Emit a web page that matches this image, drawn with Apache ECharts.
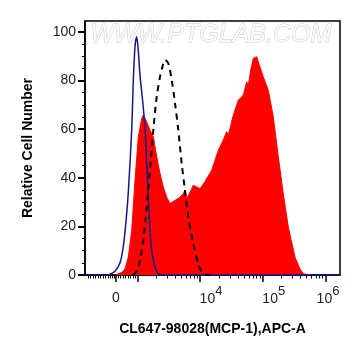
<!DOCTYPE html>
<html><head><meta charset="utf-8">
<script src="https://cdn.jsdelivr.net/npm/echarts@6/dist/echarts.min.js"></script>
<style>html,body{margin:0;padding:0;background:#fff}#c{width:361px;height:356px}</style>
</head><body><div id="c"></div>
<script>
// x values are in display decades (10^4 -> 4, "0" -> ~2.66 on the biexponential scale)
const redX = [2.645, 2.752, 2.805, 2.857, 2.912, 2.964, 3.017, 3.071, 3.096, 3.151, 3.203, 3.256, 3.310, 3.363, 3.415, 3.469, 3.522, 3.602, 3.681, 3.734, 3.761, 3.788, 3.814, 3.841, 3.893, 3.947, 4.000, 4.080, 4.186, 4.292, 4.371, 4.425, 4.451, 4.531, 4.610, 4.690, 4.744, 4.770, 4.808, 4.849, 4.904, 4.945, 5.009, 5.088, 5.168, 5.248, 5.327, 5.407, 5.514, 5.594, 5.646, 5.753];
const redY = [0, 1, 2.5, 7.3, 18.4, 39, 56.8, 64.4, 65.8, 63, 59.6, 56.8, 48.6, 41.7, 36.2, 32, 29.4, 30.7, 32, 33.5, 35, 31.4, 30.7, 34, 36.9, 36.2, 35.5, 38.5, 43.1, 51.3, 55.5, 59, 57.5, 65.8, 71.9, 74, 79.5, 78, 84.3, 89.1, 89.8, 86.4, 81.5, 76, 65, 48.6, 33.5, 19.7, 7.3, 2.5, 0.5, 0];
const blueX = [2.167, 2.502, 2.566, 2.645, 2.725, 2.773, 2.813, 2.857, 2.912, 2.937, 2.964, 2.991, 3.017, 3.044, 3.096, 3.124, 3.151, 3.176, 3.203, 3.230, 3.283, 3.335, 3.394, 6.231];
const blueY = [0, 0, 0.3, 1.5, 5, 11, 20, 34, 60, 80, 94, 98, 92, 82, 69, 59.6, 46, 32, 18.4, 10, 3.2, 0.5, 0, 0];
const dashX = [2.932, 3.004, 3.044, 3.096, 3.151, 3.203, 3.256, 3.310, 3.363, 3.415, 3.442, 3.495, 3.549, 3.602, 3.654, 3.708, 3.761, 3.814, 3.893, 3.973, 4.053, 4.159];
const dashY = [0, 2, 6, 14.2, 28, 43.1, 59.6, 73.3, 81.6, 87, 88.5, 87, 80.2, 70.6, 59.6, 45.9, 34.8, 23.8, 12.9, 4.6, 0.5, 0];
const xLabelValues = [2.661, 4, 5, 6];
const xLabelTexts = ['0', '10^4', '10^5', '10^6'];
const xMajorTicks = [2.661, 3.001, 4, 5, 6];
const xLinearMinorTicks = [2.215, 2.255, 2.295, 2.335, 2.375, 2.414, 2.454, 2.494, 2.534, 2.566, 2.598, 2.629, 2.693, 2.733, 2.773, 2.813, 2.853, 2.892, 2.932, 2.972];
const yMajorTicks = [0, 20, 40, 60, 80, 100];
const xMin = 2.167, xMax = 6.231, yMin = 0, yMax = 104.5;

const xMinorTicks = xLinearMinorTicks.slice();
[3, 4, 5].forEach(d => { for (let k = 2; k <= 9; k++) xMinorTicks.push(d + Math.log10(k)); });
const yMinorTicks = [];
for (let v = 5; v < 100; v += 5) if (v % 20) yMinorTicks.push(v);

const zip = (a, b) => a.map((v, i) => [v, b[i]]);
const font = 'Liberation Sans, Arial, sans-serif';

const chart = echarts.init(document.getElementById('c'), null, {renderer: 'canvas'});
chart.setOption({
  animation: false,
  backgroundColor: '#fff',
  grid: {left: 85, right: 21, top: 21, bottom: 81, show: true, borderColor: '#000', borderWidth: 1.5, backgroundColor: 'transparent'},
  graphic: [{
    type: 'text', left: 90, top: 22, z: 1,
    style: {text: 'WWW.PTGLAB.COM', font: 'italic 25px Liberation Sans, Arial, sans-serif', fill: '#fbfbfb', stroke: '#cccccc', lineWidth: 1}
  }],
  xAxis: [{
    type: 'value', min: xMin, max: xMax, position: 'bottom',
    name: 'CL647-98028(MCP-1),APC-A', nameLocation: 'middle', nameGap: 47,
    nameTextStyle: {fontFamily: font, fontWeight: 'bold', fontSize: 14, color: '#000'},
    axisLine: {show: true, onZero: false, lineStyle: {color: '#000', width: 1.5}},
    axisTick: {show: true, customValues: xMajorTicks, length: 7, lineStyle: {color: '#000', width: 1.5}},
    axisLabel: {
      show: true, customValues: xLabelValues, margin: 10, color: '#222', fontFamily: font, fontSize: 14,
      formatter: function (v) {
        const i = xLabelValues.findIndex(x => Math.abs(x - v) < 1e-6);
        const t = i >= 0 ? xLabelTexts[i] : '';
        if (t.indexOf('^') < 0) return '{z|' + t + '}';
        const p = t.split('^');
        const sp = v >= 6 ? 'sp6' : 'sp';
        return '{' + sp + '|}{b|' + p[0] + '}{s|' + p[1] + '}';
      },
      rich: {
        z: {fontSize: 14, fontFamily: font, color: '#222', padding: [6, 0, 0, 0]},
        b: {fontSize: 14, fontFamily: font, color: '#222', verticalAlign: 'bottom', padding: [6, 0, 0, 0]},
        s: {fontSize: 13, fontFamily: font, color: '#222', verticalAlign: 'top', padding: [0, 0, 8, 0]},
        sp: {width: 22},
        sp6: {width: 5}
      }
    },
    splitLine: {show: false}
  }, {
    type: 'value', min: xMin, max: xMax, position: 'bottom',
    axisLine: {show: false, onZero: false},
    axisTick: {show: true, customValues: xMinorTicks, length: 3.5, lineStyle: {color: '#000', width: 1}},
    axisLabel: {show: false},
    splitLine: {show: false}
  }],
  yAxis: [{
    type: 'value', min: yMin, max: yMax, position: 'left',
    name: 'Relative Cell Number', nameLocation: 'middle', nameGap: 50, nameRotate: 90,
    nameTextStyle: {fontFamily: font, fontWeight: 'bold', fontSize: 14, color: '#000'},
    axisLine: {show: true, onZero: false, lineStyle: {color: '#000', width: 1.5}},
    axisTick: {show: true, customValues: yMajorTicks, length: 7, lineStyle: {color: '#000', width: 2}},
    axisLabel: {show: true, customValues: yMajorTicks, margin: 9, color: '#222', fontFamily: font, fontSize: 14},
    splitLine: {show: false}
  }, {
    type: 'value', min: yMin, max: yMax, position: 'left',
    axisLine: {show: false, onZero: false},
    axisTick: {show: true, customValues: yMinorTicks, length: 3, lineStyle: {color: '#000', width: 1}},
    axisLabel: {show: false},
    splitLine: {show: false}
  }],
  series: [{
    name: 'CL647-98028', type: 'line', data: zip(redX, redY), symbol: 'none', smooth: false,
    lineStyle: {color: '#ff0000', width: 1}, areaStyle: {color: '#ff0000', opacity: 1, origin: 'start'}, z: 2
  }, {
    name: 'Blank', type: 'line', data: zip(blueX, blueY), symbol: 'none', smooth: 0.3,
    lineStyle: {color: '#16168c', width: 1.5}, z: 3
  }, {
    name: 'Isotype', type: 'line', data: zip(dashX, dashY), symbol: 'none', smooth: 0.3,
    lineStyle: {color: '#000', width: 2, type: [6, 5]}, z: 4
  }]
});
</script>
</body></html>
